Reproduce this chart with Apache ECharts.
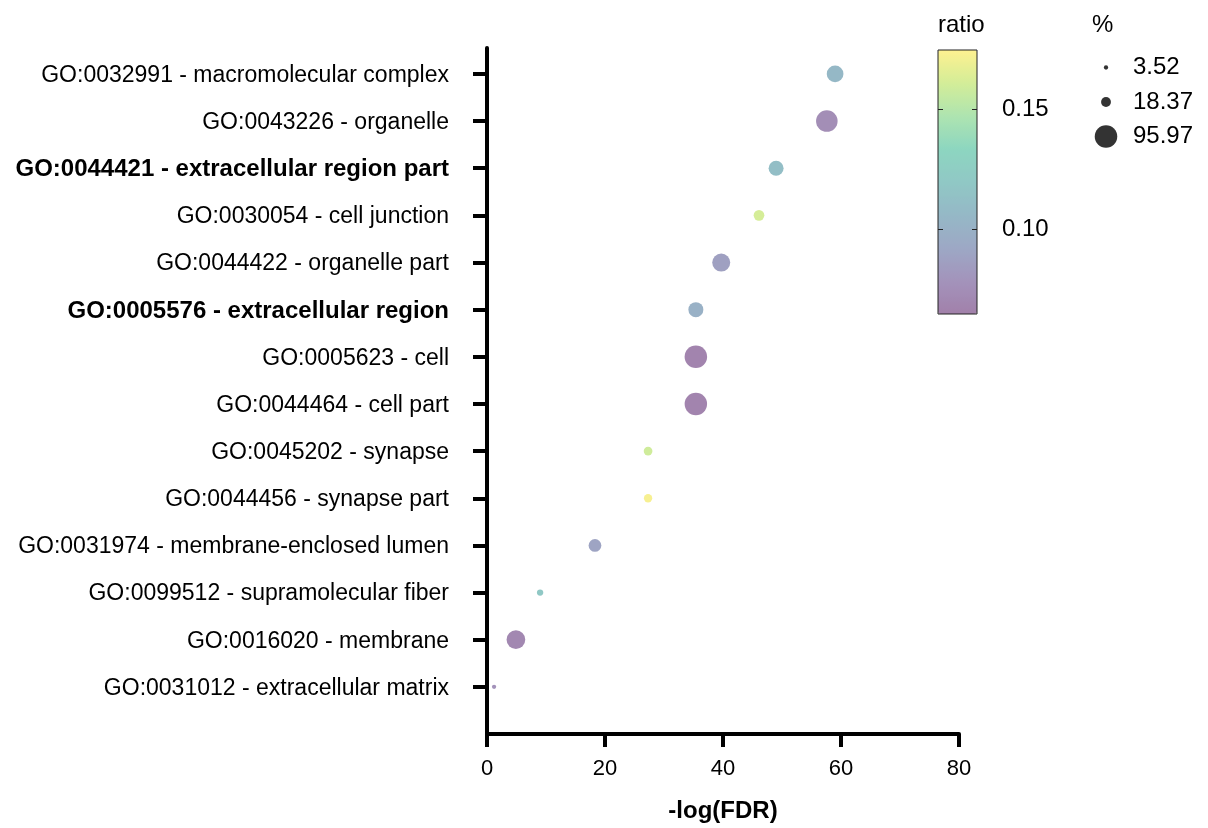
<!DOCTYPE html>
<html>
<head>
<meta charset="utf-8">
<script src="https://cdn.jsdelivr.net/npm/echarts@6/dist/echarts.min.js"></script>
<style>html,body{margin:0;padding:0;background:#fff;}#c{width:1208px;height:828px;}</style>
</head>
<body>
<div id="c"></div>
<script>
// ---- data ----
var categories = [
  'GO:0032991 - macromolecular complex',
  'GO:0043226 - organelle',
  'GO:0044421 - extracellular region part',
  'GO:0030054 - cell junction',
  'GO:0044422 - organelle part',
  'GO:0005576 - extracellular region',
  'GO:0005623 - cell',
  'GO:0044464 - cell part',
  'GO:0045202 - synapse',
  'GO:0044456 - synapse part',
  'GO:0031974 - membrane-enclosed lumen',
  'GO:0099512 - supramolecular fiber',
  'GO:0016020 - membrane',
  'GO:0031012 - extracellular matrix'
];
var boldCategories = ['GO:0044421 - extracellular region part', 'GO:0005576 - extracellular region'];
var negLogFDR = [59.0, 57.6, 49.0, 46.1, 39.7, 35.4, 35.4, 35.4, 27.3, 27.3, 18.3, 9.0, 4.9, 1.2];
var ratio =     [0.106, 0.075, 0.111, 0.161, 0.087, 0.100, 0.068, 0.068, 0.159, 0.172, 0.090, 0.120, 0.071, 0.078];
var percent =   [52.7, 88.0, 42.5, 21.6, 61.2, 42.5, 95.97, 95.0, 14.3, 13.0, 30.5, 7.5, 66.0, 3.52];
var xTicks = [0, 20, 40, 60, 80];
var ratioTicks = [0.10, 0.15];
var ratioRange = [0.0651, 0.1744];
var sizeLegend = [3.52, 18.37, 95.97];

// ---- build ----
var viridisLight = ['#a280aa','#a393bb','#9da8c5','#95b8c6','#90c8c5','#8dd6c0','#aee4b0','#d4ed98','#fef190'];
function sz(p) { return 2.3 * Math.sqrt(p); }
var FONT = 'Liberation Sans, Arial, Helvetica, sans-serif';

var mainData = categories.map(function (c, i) { return [negLogFDR[i], i, ratio[i], percent[i]]; });
var legendData = sizeLegend.map(function (p, i) { return [0.5, i, p]; });
var catIdx = categories.map(function (c, i) { return i; });

var chart = echarts.init(document.getElementById('c'), null, {renderer: 'canvas'});
chart.setOption({
  animation: false,
  backgroundColor: '#ffffff',
  textStyle: {fontFamily: FONT},
  title: [
    {text: 'ratio', left: 938, top: 13, padding: 0, textStyle: {fontSize: 24, fontWeight: 'normal', color: '#000', fontFamily: FONT}},
    {text: '%', left: 1092, top: 13, padding: 0, textStyle: {fontSize: 24, fontWeight: 'normal', color: '#000', fontFamily: FONT}}
  ],
  grid: [
    {left: 487, top: 48, width: 472, height: 691, containLabel: false},
    {left: 938, top: 50, width: 39, height: 264, show: true, borderColor: '#222', borderWidth: 1, backgroundColor: 'transparent', z: 10},
    {left: 1096, top: 50.25, width: 20, height: 103.5}
  ],
  xAxis: [
    {
      type: 'value', gridIndex: 0, min: 0, max: 80, interval: 20,
      axisLine: {show: true, onZero: false, lineStyle: {color: '#000', width: 4}},
      axisTick: {show: true, length: 13, lineStyle: {color: '#000', width: 4}},
      axisLabel: {fontSize: 22, color: '#000', margin: 24, fontFamily: FONT,
        customValues: xTicks},
      splitLine: {show: false},
      name: '-log(FDR)', nameLocation: 'middle', nameGap: 65,
      nameTextStyle: {fontSize: 24, fontWeight: 'bold', color: '#000', fontFamily: FONT}
    },
    {type: 'value', gridIndex: 1, min: 0, max: 1, show: false},
    {type: 'value', gridIndex: 2, min: 0, max: 1, show: false}
  ],
  yAxis: [
    {
      type: 'value', gridIndex: 0, inverse: true, min: -0.55, max: 14.0,
      axisLine: {show: true, onZero: false, lineStyle: {color: '#000', width: 4}},
      axisTick: {show: true, length: 14, customValues: catIdx,
        lineStyle: {color: '#000', width: 4}},
      axisLabel: {
        customValues: catIdx,
        margin: 38, fontSize: 23, color: '#000', fontFamily: FONT,
        padding: [3, 0, 0, 0],
        formatter: function (v) {
          var name = categories[Math.round(v)];
          if (name === undefined) return '';
          return boldCategories.indexOf(name) >= 0 ? '{b|' + name + '}' : name;
        },
        rich: {b: {fontWeight: 'bold', fontSize: 24, color: '#000', fontFamily: FONT}}
      },
      splitLine: {show: false}
    },
    {
      type: 'value', gridIndex: 1, min: ratioRange[0], max: ratioRange[1], position: 'right', z: 10,
      axisLine: {show: false, onZero: false},
      axisTick: {show: true, inside: true, length: 5, customValues: ratioTicks, lineStyle: {color: '#222', width: 1}},
      axisLabel: {customValues: ratioTicks, margin: 25, fontSize: 24, color: '#000', fontFamily: FONT,
        formatter: function (v) { return v.toFixed(2); }},
      splitLine: {show: false}
    },
    {
      type: 'value', gridIndex: 1, min: ratioRange[0], max: ratioRange[1], position: 'left', z: 10,
      axisLine: {show: false, onZero: false},
      axisTick: {show: true, inside: true, length: 5, customValues: ratioTicks, lineStyle: {color: '#222', width: 1}},
      axisLabel: {show: false},
      splitLine: {show: false}
    },
    {
      type: 'category', gridIndex: 2, inverse: true, position: 'right',
      data: sizeLegend.map(function (p) { return p.toFixed(2); }),
      axisLine: {show: false, onZero: false}, axisTick: {show: false}, splitLine: {show: false},
      axisLabel: {margin: 17, fontSize: 24, color: '#000', fontFamily: FONT}
    }
  ],
  visualMap: {
    type: 'continuous', seriesIndex: 0, dimension: 2,
    min: ratioRange[0], max: ratioRange[1],
    left: 938, top: 50, itemWidth: 39, itemHeight: 264, padding: 0,
    text: null, calculable: false, showLabel: false, hoverLink: false,
    inRange: {color: viridisLight}
  },
  series: [
    {
      type: 'scatter', xAxisIndex: 0, yAxisIndex: 0,
      data: mainData,
      encode: {x: 0, y: 1},
      symbol: 'circle',
      symbolSize: function (d) { return sz(d[3]); },
      itemStyle: {opacity: 1}
    },
    {
      type: 'scatter', xAxisIndex: 2, yAxisIndex: 3,
      data: legendData,
      encode: {x: 0, y: 1},
      symbol: 'circle',
      symbolSize: function (d) { return sz(d[2]); },
      itemStyle: {color: '#000'}
    }
  ]
});
</script>
</body>
</html>
